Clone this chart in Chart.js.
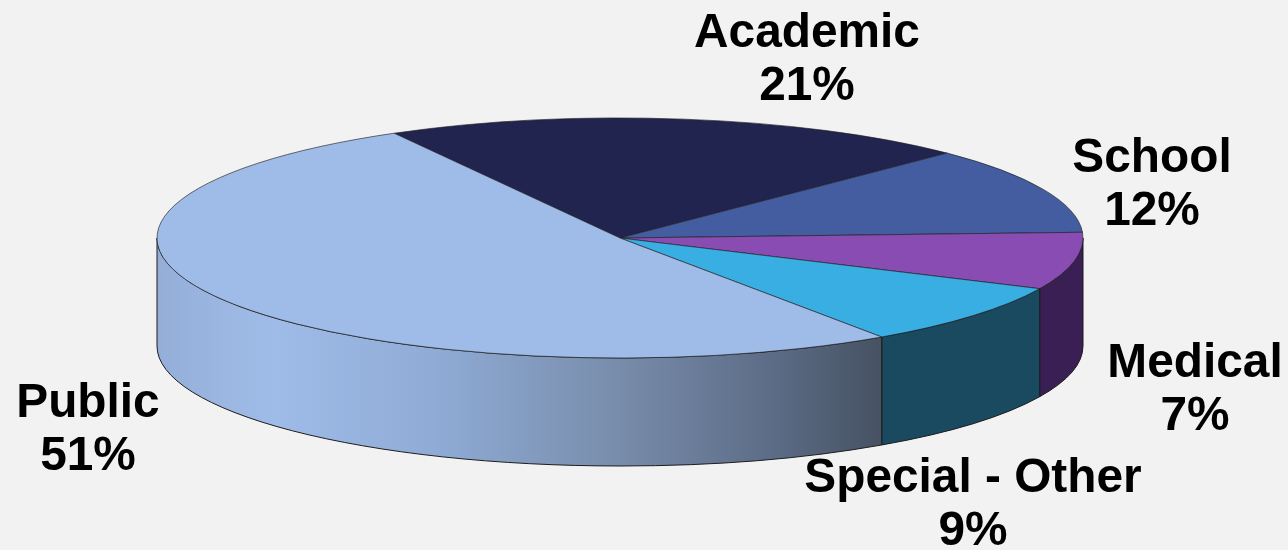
<!DOCTYPE html>
<html>
<head>
<meta charset="utf-8">
<style>
  html, body { margin: 0; padding: 0; background: #f2f2f2; overflow: hidden; }
  canvas { display: block; }
</style>
<script src="https://cdn.jsdelivr.net/npm/chart.js@4"></script>
</head>
<body>
<canvas id="pie" width="1288" height="550"></canvas>
<script>
const categories = ['Academic', 'School', 'Medical', 'Special - Other', 'Public'];
// printed percentages
const shares = [21, 12, 7, 9, 51];
// slice sizes, the printed ones are rounded
const sliceSizes = [20.6, 11.75, 7.7, 8.5, 51.45];
const topColors = ['#20244f', '#445da0', '#884cb2', '#38aee2', '#9fbce8'];
const wallColors = ['#12152e', '#28375e', '#3a1f55', '#194a60', '#465263'];

// where each label block is centred (x, y of first line baseline)
const labelSpots = [[807, 47], [1152, 172], [1195, 377], [973, 492], [88, 417]];

const CX = 620, CY = 238, RX = 463, RY = 120, DEPTH = 108;
const FLAT = RY / RX;

const pie3d = {
  id: 'pie3d',
  beforeDatasetsDraw(chart) {
    const ctx = chart.ctx;
    const arcs = chart.getDatasetMeta(0).data;
    // side wall, only the front half of the rim shows
    arcs.forEach((arc, i) => {
      const from = Math.max(arc.startAngle % (Math.PI * 2), 0);
      const to = Math.min(arc.endAngle, Math.PI);
      if (to <= from) return;
      ctx.save();
      ctx.beginPath();
      ctx.ellipse(CX, CY, RX, RY, 0, from, to);
      ctx.ellipse(CX, CY + DEPTH, RX, RY, 0, to, from, true);
      ctx.closePath();
      if (categories[i] === 'Public') {
        const g = ctx.createLinearGradient(CX - RX, 0, 881, 0);
        g.addColorStop(0, '#94aed8');
        g.addColorStop(0.16, '#9fbce8');
        g.addColorStop(0.38, '#8fabd6');
        g.addColorStop(0.62, '#7a8fae');
        g.addColorStop(0.85, '#5c6c86');
        g.addColorStop(1, wallColors[i]);
        ctx.fillStyle = g;
      } else {
        ctx.fillStyle = wallColors[i];
      }
      ctx.fill();
      ctx.strokeStyle = '#1c1c1c';
      ctx.lineWidth = 1;
      ctx.stroke();
      ctx.restore();
    });
    // squash the round pie into an ellipse
    ctx.save();
    ctx.translate(CX, CY);
    ctx.scale(1, FLAT);
    ctx.translate(-CX, -CY);
  },
  afterDatasetsDraw(chart) {
    const ctx = chart.ctx;
    ctx.restore();
    ctx.save();
    ctx.fillStyle = '#000';
    ctx.font = 'bold 47.8px "Liberation Sans", Arial, sans-serif';
    ctx.textAlign = 'center';
    categories.forEach((name, i) => {
      const [x, y] = labelSpots[i];
      ctx.fillText(name, x, y);
      ctx.fillText(shares[i] + '%', x, y + 53);
    });
    ctx.restore();
  }
};

new Chart(document.getElementById('pie'), {
  type: 'pie',
  data: {
    labels: categories,
    datasets: [{
      data: sliceSizes,
      backgroundColor: topColors,
      borderColor: '#1c1c1c',
      borderWidth: 1,
      borderAlign: 'center'
    }]
  },
  options: {
    responsive: false,
    animation: false,
    rotation: -29.2,
    radius: RX,
    // keeps the chart area centred on CX, CY
    layout: { padding: { left: 0, right: 1288 - 2 * CX, top: 0, bottom: 550 - 2 * CY } },
    plugins: { legend: { display: false }, tooltip: { enabled: false } }
  },
  plugins: [pie3d]
});
</script>
</body>
</html>
